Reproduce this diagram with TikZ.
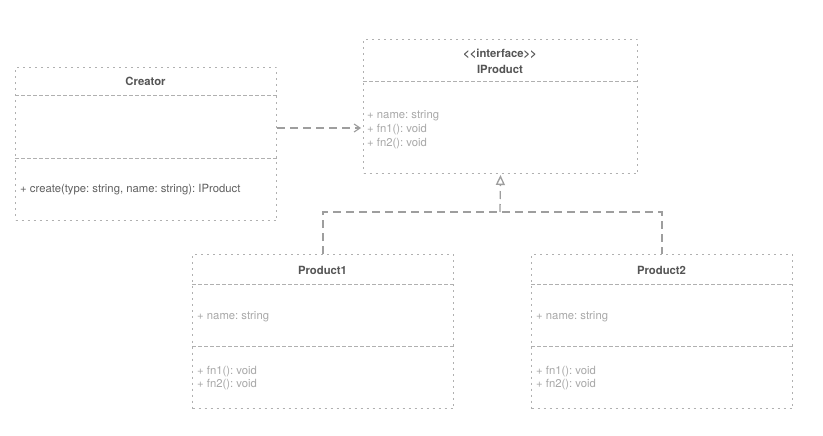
\documentclass[tikz,border=0pt]{standalone}
\usepackage{fontspec}
\setmainfont{TeX Gyre Heros}
\usetikzlibrary{arrows.meta,calc}
\definecolor{boxc}{HTML}{B0B0B0}
\definecolor{titlec}{HTML}{555555}
\definecolor{attrc}{HTML}{A8A8A8}
\definecolor{methc}{HTML}{606060}
\definecolor{connc}{HTML}{9E9E9E}
\tikzset{
  umlbox/.style={draw=boxc, line width=1pt, dash pattern=on 2pt off 4pt, rectangle, anchor=north west, inner sep=0pt},
  sepline/.style={draw=boxc, line width=1pt, dash pattern=on 4pt off 2pt},
  title/.style={font=\fontsize{11.3}{13}\selectfont\bfseries, text=titlec, inner sep=0pt},
  attr/.style={font=\fontsize{11.3}{13}\selectfont, text=attrc, anchor=west, inner sep=0pt},
  meth/.style={font=\fontsize{11.3}{13}\selectfont, text=methc, anchor=west, inner sep=0pt},
  conn/.style={draw=connc, line width=1.3pt, dash pattern=on 8pt off 5pt},
}
\begin{document}
\frenchspacing
\begin{tikzpicture}[x=1pt,y=-1pt]
\useasboundingbox[fill=white] (0,0) rectangle (823,436);
% Creator
\node[umlbox, minimum width=261pt, minimum height=153pt] (cr) at (15,67) {};
\draw[sepline] ($(cr.north west)+(0,29)$) -- ($(cr.north east)+(0,29)$);
\draw[sepline] ($(cr.north west)+(0,91)$) -- ($(cr.north east)+(0,91)$);
\node[title] (crt) at (145.5,81) {Creator};
\node[meth] (crm) at (20,189.5) {+ create(type: string, name: string): IProduct};
% IProduct
\node[umlbox, minimum width=274pt, minimum height=134pt] (ip) at (363,39) {};
\draw[sepline] ($(ip.north west)+(0,43)$) -- ($(ip.north east)+(0,43)$);
\node[title] (ipi) at (500,54) {<{}<interface>{}>};
\node[title] (ipt) at (500,69) {IProduct};
\node[attr] (ipa1) at (367,116) {+ name: string};
\node[attr] (ipa2) at (367,130) {+ fn1(): void};
\node[attr] (ipa3) at (367,144) {+ fn2(): void};
% Product1
\node[umlbox, minimum width=261pt, minimum height=154pt] (p1) at (192,254) {};
\draw[sepline] ($(p1.north west)+(0,30)$) -- ($(p1.north east)+(0,30)$);
\draw[sepline] ($(p1.north west)+(0,92)$) -- ($(p1.north east)+(0,92)$);
\node[title] (p1t) at (322.5,270) {Product1};
\node[attr] (p1a) at (197,317) {+ name: string};
\node[attr] (p1m1) at (197,372) {+ fn1(): void};
\node[attr] (p1m2) at (197,385) {+ fn2(): void};
% Product2
\node[umlbox, minimum width=261pt, minimum height=154pt] (p2) at (531,254) {};
\draw[sepline] ($(p2.north west)+(0,30)$) -- ($(p2.north east)+(0,30)$);
\draw[sepline] ($(p2.north west)+(0,92)$) -- ($(p2.north east)+(0,92)$);
\node[title] (p2t) at (661.5,270) {Product2};
\node[attr] (p2a) at (536,317) {+ name: string};
\node[attr] (p2m1) at (536,372) {+ fn1(): void};
\node[attr] (p2m2) at (536,385) {+ fn2(): void};
% dependency
\coordinate (ds) at ($(cr.north east)+(0,61)$);
\coordinate (de) at ($(ip.north west)+(-2,89)$);
\draw[conn, -{Straight Barb[length=6pt,width=8pt,line width=1.1pt]}] (ds) -- (de);
% realization
\coordinate (j) at (500,212);
\draw[conn] (p1.north) |- (j) -| (p2.north);
\draw[conn, -{Triangle[open,length=10pt,width=9pt,line width=1.3pt]}] (j) -- ($(ip.south)+(0,1)$);
\end{tikzpicture}
\end{document}
